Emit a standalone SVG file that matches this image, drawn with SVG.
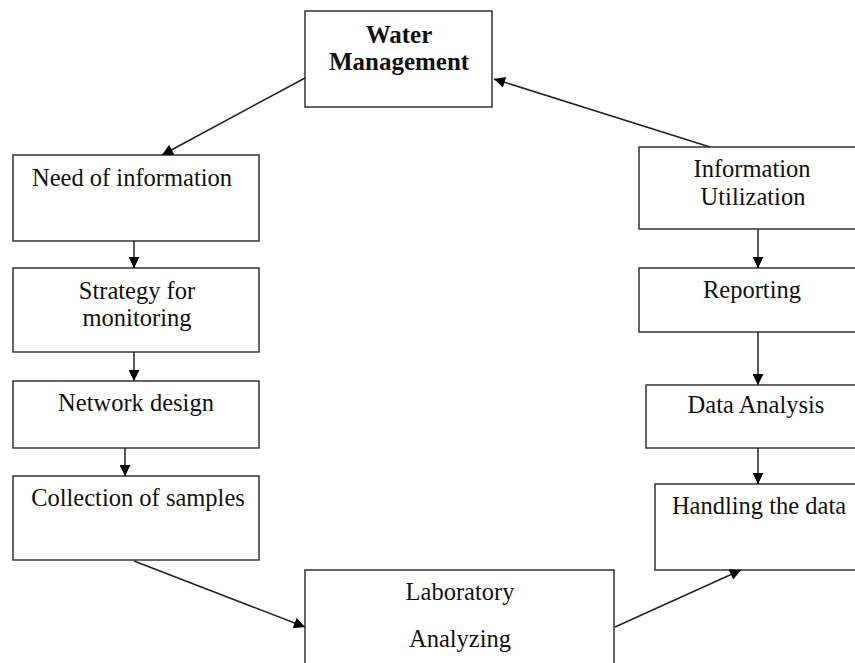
<svg xmlns="http://www.w3.org/2000/svg" width="855" height="663" viewBox="0 0 855 663">
<defs>
<marker id="ah" viewBox="0 0 10 10" refX="10" refY="5" markerWidth="12" markerHeight="11" markerUnits="userSpaceOnUse" orient="auto">
<path d="M0,0 L10,5 L0,10 z" fill="#000"/>
</marker>
</defs>
<style>
rect{fill:#fff;stroke:#333;stroke-width:1.5}
text{font-family:"Liberation Serif","Times New Roman",serif;font-size:24.5px;fill:#111;text-anchor:middle}
.b{font-weight:bold;font-size:25px}
.c line{stroke:#222;stroke-width:1.5;marker-end:url(#ah)}
</style>
<rect x="0" y="0" width="855" height="663" style="fill:#fff;stroke:none"/>
<g id="water-management"><rect x="305" y="11" width="187" height="96"/><text class="b" x="399" y="43">Water</text><text class="b" x="399" y="70">Management</text></g>
<g id="need"><rect x="13" y="155" width="246" height="86"/><text x="132" y="186">Need of information</text></g>
<g id="strategy"><rect x="13" y="268" width="246" height="84"/><text x="137" y="299">Strategy for</text><text x="137" y="326">monitoring</text></g>
<g id="network"><rect x="13" y="381" width="246" height="67"/><text x="136" y="411">Network design</text></g>
<g id="collection"><rect x="13" y="476" width="246" height="84"/><text x="138" y="506">Collection of samples</text></g>
<g id="laboratory"><rect x="305" y="570" width="309" height="110"/><text x="460" y="600">Laboratory</text><text x="460" y="647">Analyzing</text></g>
<g id="info-util"><rect x="639" y="147" width="230" height="82"/><text x="752" y="177">Information</text><text x="753" y="205">Utilization</text></g>
<g id="reporting"><rect x="639" y="268" width="230" height="64"/><text x="752" y="298">Reporting</text></g>
<g id="data-analysis"><rect x="646" y="385" width="223" height="63"/><text x="756" y="413">Data Analysis</text></g>
<g id="handling"><rect x="655" y="484" width="214" height="86"/><text x="759" y="514">Handling the data</text></g>
<g class="c" id="connectors">
<line x1="305" y1="78" x2="162" y2="155"/>
<line x1="710" y1="147" x2="494" y2="79"/>
<line x1="134" y1="241" x2="134" y2="268"/>
<line x1="134" y1="352" x2="134" y2="381"/>
<line x1="125" y1="448" x2="125" y2="476"/>
<line x1="134" y1="561" x2="305" y2="627"/>
<line x1="615" y1="627" x2="741" y2="570"/>
<line x1="758" y1="229" x2="758" y2="268"/>
<line x1="758" y1="332" x2="758" y2="385"/>
<line x1="758" y1="448" x2="758" y2="484"/>
</g>
</svg>
